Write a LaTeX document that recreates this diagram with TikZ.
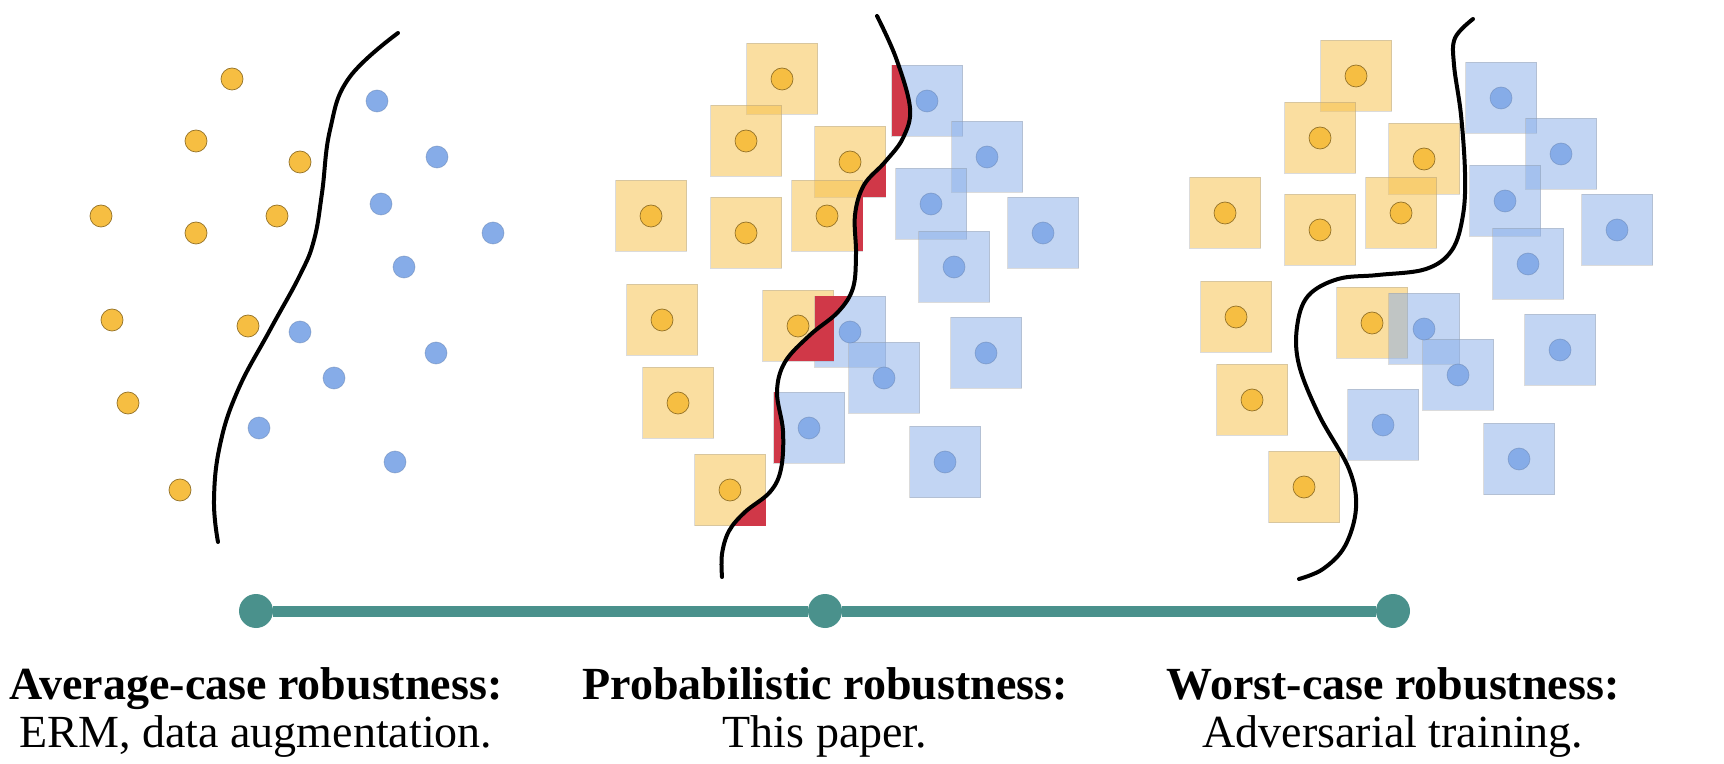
\documentclass[tikz,border=0pt]{standalone}
\usepackage{fontspec}
\setmainfont{Liberation Serif}
\usetikzlibrary{positioning}

\definecolor{dotorange}{RGB}{246,190,66}
\definecolor{dotblue}{RGB}{134,172,232}
\definecolor{wrongred}{RGB}{208,56,72}
\definecolor{scaleteal}{RGB}{74,145,140}

\tikzset{
  yellowdot/.style={fill=dotorange,draw=dotorange!60!black,line width=0.35pt},
  bluedot/.style={fill=dotblue,draw=dotblue!75!black,draw opacity=0.5,line width=0.35pt},
  yellowbox/.style={fill=dotorange,fill opacity=0.5,draw=black!40,draw opacity=0.35,line width=0.5pt},
  bluebox/.style={fill=dotblue,fill opacity=0.5,draw=black!40,draw opacity=0.35,line width=0.5pt},
  boundary/.style={line width=2pt,line cap=round},
  tick/.style={circle,fill=scaleteal,minimum size=17pt,inner sep=0pt},
  caption/.style={align=center,font=\fontsize{23}{24}\selectfont}
}

% the same training points in all three panels
\newcommand\yellowpts{232/79,196/141,300/162,101/216,196/233,277/216,112/320,248/326,128/403,180/490}
\newcommand\bluepts{377/101,437/157,381/204,493/233,404/267,300/332,436/353,334/378,259/428,395/462}

% decision boundaries
\def\leftcurve{plot[smooth,tension=0.7] coordinates {(398,33) (349,78) (330,130) (322,193) (314,240) (300,275) (270,330) (238,390) (220,445) (214,500) (218,542)}}
\def\midcurve{plot[smooth,tension=0.6] coordinates {(877,16) (896,58) (910,108) (903,138) (885,162) (864,185) (855,215) (856,254) (853,288) (838,312) (810,335) (785,362) (777,392) (783,431) (781,469) (770,492) (745,512) (729,531) (722,554) (722,577)}}
\def\rightcurve{plot[smooth,tension=0.6] coordinates {(1473,19) (1455,38) (1454,65) (1461,115) (1465,173) (1463,215) (1452,250) (1426,269) (1378,275) (1338,279) (1308,296) (1297,327) (1299,365) (1319,415) (1349,469) (1356,508) (1345,546) (1323,569) (1299,579)}}

\begin{document}
\begin{tikzpicture}[x=0.5pt,y=-0.5pt]

\useasboundingbox (0,0) rectangle (1724,764);

% average case: points only
\foreach \x/\y in \yellowpts {\draw[yellowdot] (\x,\y) circle (11);}
\foreach \x/\y in \bluepts {\draw[bluedot] (\x,\y) circle (11);}
\draw[boundary] \leftcurve;

% probabilistic: boxes, red where a box crosses the boundary
\begin{scope}[shift={(550,0)}]
\foreach \x/\y in \yellowpts {\draw[yellowbox] (\x-35.5,\y-35.5) rectangle (\x+35.5,\y+35.5);}
\foreach \x/\y in \bluepts {\draw[bluebox] (\x-35.5,\y-35.5) rectangle (\x+35.5,\y+35.5);}
\end{scope}
\begin{scope}
\clip \midcurve -- (600,577) -- (600,16) -- cycle;
\foreach \x/\y in \bluepts {\fill[wrongred] (\x+550-35.5,\y-35.5) rectangle (\x+550+35.5,\y+35.5);}
\end{scope}
\begin{scope}
\clip \midcurve -- (1090,577) -- (1090,16) -- cycle;
\foreach \x/\y in \yellowpts {\fill[wrongred] (\x+550-35.5,\y-35.5) rectangle (\x+550+35.5,\y+35.5);}
\end{scope}
\begin{scope}[shift={(550,0)}]
\foreach \x/\y in \yellowpts {\draw[yellowdot] (\x,\y) circle (11);}
\foreach \x/\y in \bluepts {\draw[bluedot] (\x,\y) circle (11);}
\end{scope}
\draw[boundary] \midcurve;

% worst case: every box on the right side
\begin{scope}[shift={(1124,-3)}]
\foreach \x/\y in \yellowpts {\draw[yellowbox] (\x-35.5,\y-35.5) rectangle (\x+35.5,\y+35.5);}
\foreach \x/\y in \bluepts {\draw[bluebox] (\x-35.5,\y-35.5) rectangle (\x+35.5,\y+35.5);}
\foreach \x/\y in \yellowpts {\draw[yellowdot] (\x,\y) circle (11);}
\foreach \x/\y in \bluepts {\draw[bluedot] (\x,\y) circle (11);}
\end{scope}
\draw[boundary] \rightcurve;

% robustness scale
\node[tick] (avg) at (256,611) {};
\node[tick] (prob) at (825,611) {};
\node[tick] (worst) at (1393,611) {};
\draw[scaleteal,line width=5.5pt] (avg) -- (prob) -- (worst);

\node[caption,below=16pt of avg] (avgtext) {\textbf{Average-case robustness:}\\ERM, data augmentation.};
\node[caption,below=16pt of prob] (probtext) {\textbf{Probabilistic robustness:}\\This paper.};
\node[caption,below=16pt of worst] (worsttext) {\textbf{Worst-case robustness:}\\Adversarial training.};

\end{tikzpicture}
\end{document}
